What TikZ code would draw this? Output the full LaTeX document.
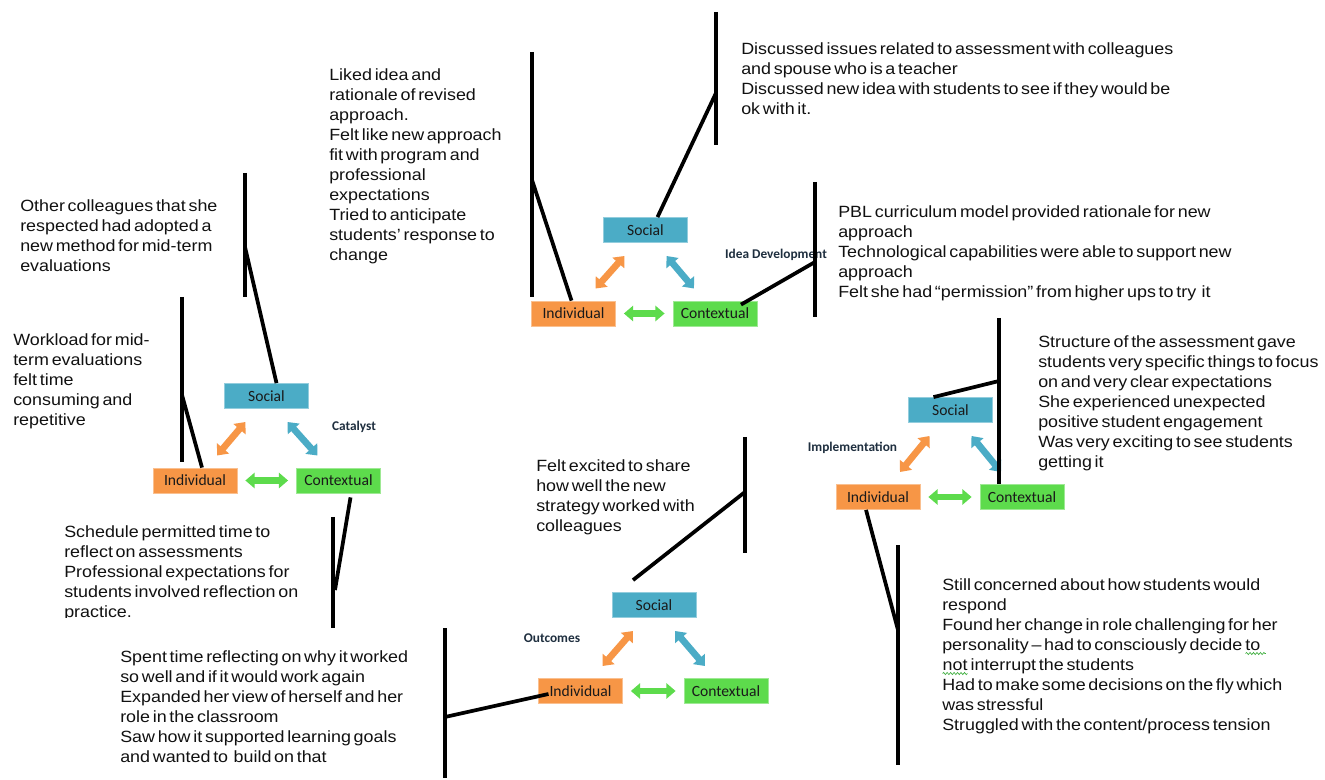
\documentclass[tikz,border=0pt]{standalone}
\usepackage{fontspec}
\setmainfont{Liberation Sans}[FakeStretch=1.1,WordSpace=0.55]
\newfontfamily\boxfont{Carlito}
\usetikzlibrary{arrows.meta,calc,decorations.pathmorphing}

\definecolor{socfill}{HTML}{4BACC6}
\definecolor{indfill}{HTML}{F79646}
\definecolor{ctxfill}{HTML}{5DDB4C}
\definecolor{labelink}{HTML}{1F2F3F}
\definecolor{boxink}{HTML}{1A1A1A}
\definecolor{bodyink}{HTML}{111111}
\definecolor{wavegreen}{HTML}{3FAF3F}

% green wavy underline (spell-check style)
\newcommand\gwave[1]{\tikz[baseline=(w.base),x=1pt,y=1pt]{%
  \node[inner sep=0pt,outer sep=0pt,anchor=base] (w) {#1};
  \draw[wavegreen,line width=0.5pt,decorate,
        decoration={snake,amplitude=0.8pt,segment length=2.6pt}]
    ([yshift=-2.6pt]w.base west) -- ([yshift=-2.6pt]w.base east);}}

% one Social / Individual / Contextual triangle with its three double arrows
\newcommand\triad[4]{%
  \node[socbox] (#1s) at #2 {Social};
  \node[indbox] (#1i) at #3 {Individual};
  \node[ctxbox] (#1c) at #4 {Contextual};
  \draw[oarr] ($(#1i)+(22,-25)$) -- ($(#1s)+(-21,26)$);
  \draw[barr] ($(#1s)+(21,26)$) -- ($(#1c)+(-21,-25)$);
  \draw[garr] ($(#1i.east)+(8,0)$) -- ($(#1c.west)+(-8,0)$);
}

\begin{document}
\begin{tikzpicture}[x=0.75pt,y=-0.75pt,
  tri/.style={minimum width=63pt,minimum height=18.75pt,inner sep=0pt,
    font=\boxfont\fontsize{11.7}{12}\selectfont,text=boxink,line width=0.6pt},
  socbox/.style={tri,fill=socfill,draw=socfill!60!white},
  indbox/.style={tri,fill=indfill,draw=indfill!60!white},
  ctxbox/.style={tri,fill=ctxfill,draw=ctxfill!60!white},
  dbl/.style={line width=5pt,
    {Triangle[width=11.5pt,length=7pt]}-{Triangle[width=11.5pt,length=7pt]}},
  oarr/.style={dbl,draw=indfill},
  barr/.style={dbl,draw=socfill},
  garr/.style={dbl,draw=ctxfill},
  stage/.style={font=\boxfont\bfseries\fontsize{10}{12}\selectfont,text=labelink,inner sep=0pt},
  note/.style={anchor=north west,align=left,inner sep=0pt,
    font=\fontsize{12.2}{15}\selectfont,text=bodyink},
  bracket/.style={line width=2.8pt,black}]

\path[fill=white,use as bounding box] (0,0) rectangle (1325,780);

% ---------------- Catalyst ----------------
\triad{c}{(266.5,396)}{(195,480.5)}{(338.5,480.5)}
\node[stage] (cl) at (354,427) {Catalyst};

\node[note] (ncolleagues) at (20,199) {Other colleagues that she\\respected had adopted a\\new method for mid-term\\evaluations};
\node[note] (nworkload) at (13,333) {Workload for mid-\\term evaluations\\felt time\\consuming and\\repetitive};
\begin{scope}
  \clip (0,480) rectangle (330,617);
  \node[note] (nschedule) at (64,525) {Schedule permitted time to\\reflect on assessments\\Professional expectations for\\students involved reflection on\\practice.};
\end{scope}

\coordinate (b1t) at (245,173); \coordinate (b1k) at (245,247); \coordinate (b1b) at (245,297);
\draw[bracket] (b1t) -- (b1b);
\draw[bracket] (b1k) -- ($(cs.north)+(10,0)$);

\coordinate (b2t) at (182,297); \coordinate (b2k) at (182,395); \coordinate (b2b) at (182,462);
\draw[bracket] (b2t) -- (b2b);
\draw[bracket] (b2k) -- ($(ci.north)+(7,0)$);

\coordinate (b3t) at (333,517); \coordinate (b3k) at (335,590); \coordinate (b3b) at (333,628);
\draw[bracket] (b3t) -- (b3b);
\draw[bracket] ($(cc.south)+(12,4)$) -- (b3k);

% ---------------- Idea Development ----------------
\triad{i}{(645.5,230)}{(573.5,313.5)}{(715,313.5)}
\node[stage] (il) at (776,255) {Idea Development};

\node[note] (nliked) at (329,68) {Liked idea and\\rationale of revised\\approach.\\Felt like new approach\\fit with program and\\professional\\expectations\\Tried to anticipate\\students’ response to\\change};
\node[note] (ndiscussed) at (741,42) {Discussed issues related to assessment with colleagues\\and spouse who is a teacher\\Discussed new idea with students to see if they would be\\ok with it.};
\node[note] (npbl) at (838,205) {PBL curriculum model provided rationale for new\\approach\\Technological capabilities were able to support new\\approach\\Felt she had “permission” from higher ups to try\ \ it};

\coordinate (b4t) at (532,52); \coordinate (b4k) at (532,180); \coordinate (b4b) at (532,297);
\draw[bracket] (b4t) -- (b4b);
\draw[bracket] (b4k) -- ($(ii.north)+(-2,0)$);

\coordinate (b5t) at (716,12); \coordinate (b5k) at (716,93); \coordinate (b5b) at (716,145);
\draw[bracket] (b5t) -- (b5b);
\draw[bracket] (b5k) -- ($(is.north)+(12,0)$);

\coordinate (b6t) at (815,182); \coordinate (b6k) at (815,262); \coordinate (b6b) at (815,317);
\draw[bracket] (b6t) -- (b6b);
\draw[bracket] (b6k) -- ($(ic.north)+(26,4)$);

% ---------------- Implementation ----------------
\triad{m}{(950.5,410)}{(878,497)}{(1022,497)}
\node[stage] (ml) at (852.5,448) {Implementation};

\node[note] (nstructure) at (1038,335) {Structure of the assessment gave\\students very specific things to focus\\on and very clear expectations\\She experienced unexpected\\positive student engagement\\Was very exciting to see students\\getting it};
\node[note] (nstill) at (942,578) {Still concerned about how students would\\respond\\Found her change in role challenging for her\\personality – had to consciously decide \gwave{to\ \,}\\\gwave{not} interrupt the students\\Had to make some decisions on the fly which\\was stressful\\Struggled with the content/process tension};

\coordinate (b7t) at (999,318); \coordinate (b7k) at (999,381);
\draw[bracket] (b7t) -- ($(mc.north)+(-23,0)$);
\draw[bracket] ($(ms.north)+(-17,0)$) -- (b7k);

\coordinate (b8t) at (898,545); \coordinate (b8k) at (898,630); \coordinate (b8b) at (898,765);
\draw[bracket] (b8t) -- (b8b);
\draw[bracket] ($(mi.south)+(-12,0)$) -- (b8k);

% ---------------- Outcomes ----------------
\triad{o}{(654,605)}{(580.5,691)}{(726,691)}
\node[stage] (ol) at (552,638) {Outcomes};

\node[note] (nexcited) at (536,459) {Felt excited to share\\how well the new\\strategy worked with\\colleagues};
\node[note] (nspent) at (120,650) {Spent time reflecting on why it worked\\so well and if it would work again\\Expanded her view of herself and her\\role in the classroom\\Saw how it supported learning goals\\and wanted to\ \ build on that};

\coordinate (b9t) at (745,437); \coordinate (b9k) at (745,492); \coordinate (b9b) at (745,553);
\draw[bracket] (b9t) -- (b9b);
\draw[bracket] (b9k) -- ($(os.north)+(-21,-12)$);

\coordinate (b10t) at (445,628); \coordinate (b10k) at (445,717); \coordinate (b10b) at (445,778);
\draw[bracket] (b10t) -- (b10b);
\draw[bracket] (b10k) -- ($(oi)+(-32,3)$);

\end{tikzpicture}
\end{document}
